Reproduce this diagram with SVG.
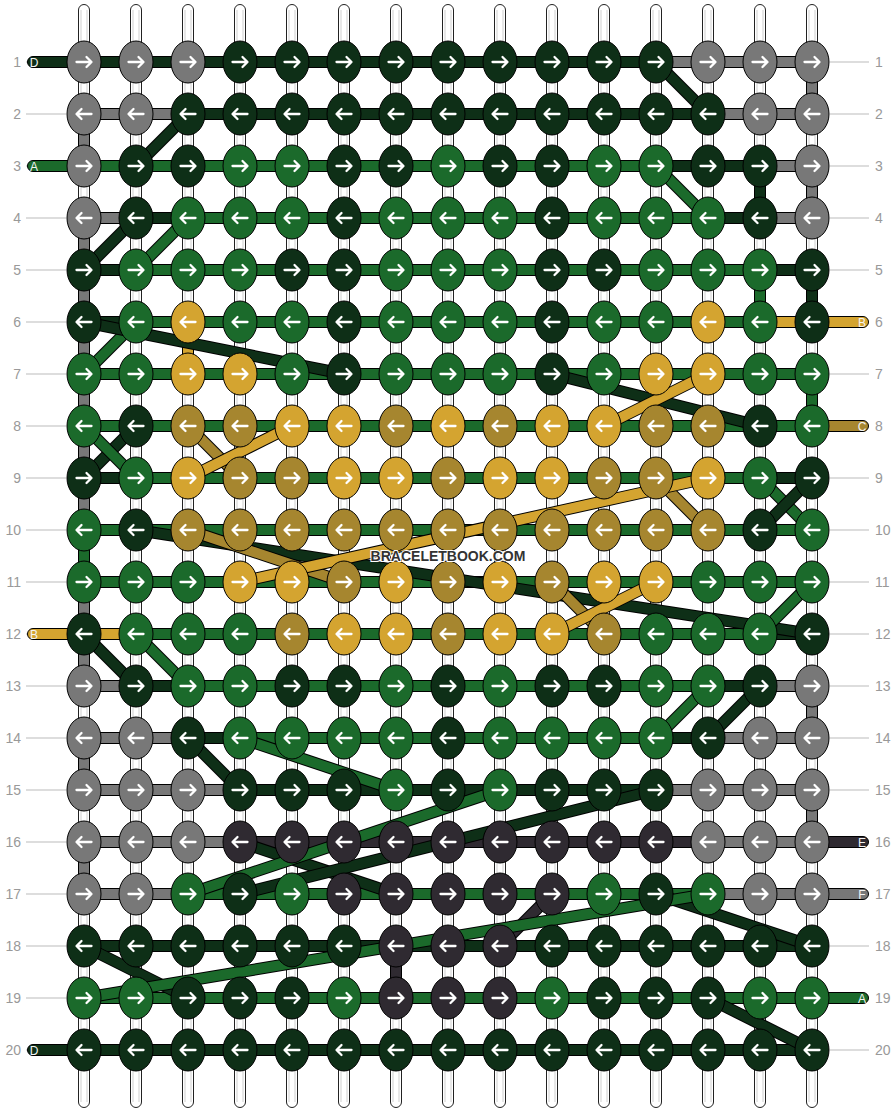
<svg xmlns="http://www.w3.org/2000/svg" width="896" height="1112" viewBox="0 0 896 1112">
<style>
.g{fill:#787878}.k{fill:#0e2f17}.n{fill:#1b6a2b}.y{fill:#d4a430}.o{fill:#a6862f}.p{fill:#2f2a31}
ellipse{stroke:#000;stroke-width:1}
line{stroke-linecap:butt;fill:none}
.bo{stroke:#000;stroke-width:12}
.sg{stroke:#787878;stroke-width:10}.sk{stroke:#0e2f17;stroke-width:10}.sn{stroke:#1b6a2b;stroke-width:10}
.sy{stroke:#d4a430;stroke-width:10}.so{stroke:#a6862f;stroke-width:10}.sp{stroke:#2f2a31;stroke-width:10}
.str{fill:#fff;stroke:#222;stroke-width:1}
.il{stroke:#cfcfcf;stroke-width:1}
.tl{stroke:#bbb;stroke-width:1}
.num{font-family:"Liberation Sans",Arial,sans-serif;font-size:14px;fill:#999}
.pl{stroke:#000;stroke-width:1}
.pt{font-family:"Liberation Sans",Arial,sans-serif;font-size:12px;fill:#f4f4f4;text-anchor:middle}
.wm{font-family:"Liberation Sans",Arial,sans-serif;font-size:14px;font-weight:bold;fill:#333;stroke:#fff;stroke-width:2;paint-order:stroke;text-anchor:middle}
</style>
<defs>
<path id="R" d="M-7.5,0H7M2.5,-5L7.5,0L2.5,5" fill="none" stroke="#fff" stroke-width="2.3" stroke-linecap="round" stroke-linejoin="round"/>
<path id="L" d="M7.5,0H-7M-2.5,-5L-7.5,0L-2.5,5" fill="none" stroke="#fff" stroke-width="2.3" stroke-linecap="round" stroke-linejoin="round"/>
</defs>
<rect width="896" height="1112" fill="#fff"/>
<g id="strings">
<rect class="str" x="78.5" y="4.5" width="11" height="1103" rx="5.5"/><rect class="str" x="130.5" y="4.5" width="11" height="1103" rx="5.5"/><rect class="str" x="182.5" y="4.5" width="11" height="1103" rx="5.5"/><rect class="str" x="234.5" y="4.5" width="11" height="1103" rx="5.5"/><rect class="str" x="286.5" y="4.5" width="11" height="1103" rx="5.5"/><rect class="str" x="338.5" y="4.5" width="11" height="1103" rx="5.5"/><rect class="str" x="390.5" y="4.5" width="11" height="1103" rx="5.5"/><rect class="str" x="442.5" y="4.5" width="11" height="1103" rx="5.5"/><rect class="str" x="494.5" y="4.5" width="11" height="1103" rx="5.5"/><rect class="str" x="546.5" y="4.5" width="11" height="1103" rx="5.5"/><rect class="str" x="598.5" y="4.5" width="11" height="1103" rx="5.5"/><rect class="str" x="650.5" y="4.5" width="11" height="1103" rx="5.5"/><rect class="str" x="702.5" y="4.5" width="11" height="1103" rx="5.5"/><rect class="str" x="754.5" y="4.5" width="11" height="1103" rx="5.5"/><rect class="str" x="806.5" y="4.5" width="11" height="1103" rx="5.5"/>
<path class="il" d="M81,10V1102M87,10V1102M133,10V1102M139,10V1102M185,10V1102M191,10V1102M237,10V1102M243,10V1102M289,10V1102M295,10V1102M341,10V1102M347,10V1102M393,10V1102M399,10V1102M445,10V1102M451,10V1102M497,10V1102M503,10V1102M549,10V1102M555,10V1102M601,10V1102M607,10V1102M653,10V1102M659,10V1102M705,10V1102M711,10V1102M757,10V1102M763,10V1102M809,10V1102M815,10V1102"/>
</g>
<g id="rownumbers">
<path class="tl" d="M26,62H66M26,114H66M26,166H66M26,218H66M26,270H66M26,322H66M26,374H66M26,426H66M26,478H66M26,530H66M26,582H66M26,634H66M26,686H66M26,738H66M26,790H66M26,842H66M26,894H66M26,946H66M26,998H66M26,1050H66M830,62H869M830,114H869M830,166H869M830,218H869M830,270H869M830,322H869M830,374H869M830,426H869M830,478H869M830,530H869M830,582H869M830,634H869M830,686H869M830,738H869M830,790H869M830,842H869M830,894H869M830,946H869M830,998H869M830,1050H869"/>
<g class="num" text-anchor="end">
<text x="21" y="67">1</text><text x="21" y="119">2</text><text x="21" y="171">3</text><text x="21" y="223">4</text><text x="21" y="275">5</text><text x="21" y="327">6</text><text x="21" y="379">7</text><text x="21" y="431">8</text><text x="21" y="483">9</text><text x="21" y="535">10</text><text x="21" y="587">11</text><text x="21" y="639">12</text><text x="21" y="691">13</text><text x="21" y="743">14</text><text x="21" y="795">15</text><text x="21" y="847">16</text><text x="21" y="899">17</text><text x="21" y="951">18</text><text x="21" y="1003">19</text><text x="21" y="1055">20</text>
</g>
<g class="num">
<text x="875" y="67">1</text><text x="875" y="119">2</text><text x="875" y="171">3</text><text x="875" y="223">4</text><text x="875" y="275">5</text><text x="875" y="327">6</text><text x="875" y="379">7</text><text x="875" y="431">8</text><text x="875" y="483">9</text><text x="875" y="535">10</text><text x="875" y="587">11</text><text x="875" y="639">12</text><text x="875" y="691">13</text><text x="875" y="743">14</text><text x="875" y="795">15</text><text x="875" y="847">16</text><text x="875" y="899">17</text><text x="875" y="951">18</text><text x="875" y="1003">19</text><text x="875" y="1055">20</text>
</g>
</g>
<g id="connectors">
<g id="verticals">
<line class="bo" x1="812" y1="62" x2="812" y2="114"/><line class="sg" x1="812" y1="62" x2="812" y2="114"/>
<line class="bo" x1="84" y1="114" x2="84" y2="166"/><line class="sg" x1="84" y1="114" x2="84" y2="166"/>
<line class="bo" x1="760" y1="166" x2="760" y2="218"/><line class="sk" x1="760" y1="166" x2="760" y2="218"/>
<line class="bo" x1="812" y1="166" x2="812" y2="218"/><line class="sg" x1="812" y1="166" x2="812" y2="218"/>
<line class="bo" x1="84" y1="218" x2="84" y2="270"/><line class="sg" x1="84" y1="218" x2="84" y2="270"/>
<line class="bo" x1="84" y1="270" x2="84" y2="322"/><line class="sg" x1="84" y1="270" x2="84" y2="322"/>
<line class="bo" x1="760" y1="270" x2="760" y2="322"/><line class="sn" x1="760" y1="270" x2="760" y2="322"/>
<line class="bo" x1="812" y1="270" x2="812" y2="322"/><line class="sk" x1="812" y1="270" x2="812" y2="322"/>
<line class="bo" x1="84" y1="322" x2="84" y2="374"/><line class="sg" x1="84" y1="322" x2="84" y2="374"/>
<line class="bo" x1="188" y1="322" x2="188" y2="374"/><line class="sy" x1="188" y1="322" x2="188" y2="374"/>
<line class="bo" x1="84" y1="374" x2="84" y2="426"/><line class="sg" x1="84" y1="374" x2="84" y2="426"/>
<line class="bo" x1="812" y1="374" x2="812" y2="426"/><line class="sn" x1="812" y1="374" x2="812" y2="426"/>
<line class="bo" x1="84" y1="426" x2="84" y2="478"/><line class="sg" x1="84" y1="426" x2="84" y2="478"/>
<line class="bo" x1="84" y1="478" x2="84" y2="530"/><line class="sg" x1="84" y1="478" x2="84" y2="530"/>
<line class="bo" x1="84" y1="530" x2="84" y2="582"/><line class="sn" x1="84" y1="530" x2="84" y2="582"/>
<line class="bo" x1="84" y1="582" x2="84" y2="634"/><line class="sg" x1="84" y1="582" x2="84" y2="634"/>
<line class="bo" x1="84" y1="634" x2="84" y2="686"/><line class="sg" x1="84" y1="634" x2="84" y2="686"/>
<line class="bo" x1="812" y1="686" x2="812" y2="738"/><line class="sg" x1="812" y1="686" x2="812" y2="738"/>
<line class="bo" x1="84" y1="738" x2="84" y2="790"/><line class="sg" x1="84" y1="738" x2="84" y2="790"/>
<line class="bo" x1="812" y1="790" x2="812" y2="842"/><line class="sg" x1="812" y1="790" x2="812" y2="842"/>
<line class="bo" x1="84" y1="842" x2="84" y2="894"/><line class="sg" x1="84" y1="842" x2="84" y2="894"/>
<line class="bo" x1="396" y1="946" x2="396" y2="998"/><line class="sp" x1="396" y1="946" x2="396" y2="998"/>
</g>
<g id="horizontals">
<line class="bo" x1="84" y1="62" x2="656" y2="62"/><line class="sk" x1="84" y1="62" x2="656" y2="62"/>
<line class="bo" x1="656" y1="62" x2="812" y2="62"/><line class="sg" x1="656" y1="62" x2="812" y2="62"/>
<line class="bo" x1="84" y1="114" x2="812" y2="114"/><line class="sg" x1="84" y1="114" x2="188" y2="114"/><line class="sk" x1="188" y1="114" x2="708" y2="114"/><line class="sg" x1="708" y1="114" x2="812" y2="114"/>
<line class="bo" x1="84" y1="166" x2="812" y2="166"/><line class="sn" x1="84" y1="166" x2="656" y2="166"/><line class="sk" x1="656" y1="166" x2="760" y2="166"/><line class="sg" x1="760" y1="166" x2="812" y2="166"/>
<line class="bo" x1="84" y1="218" x2="812" y2="218"/><line class="sg" x1="84" y1="218" x2="136" y2="218"/><line class="sk" x1="136" y1="218" x2="188" y2="218"/><line class="sn" x1="188" y1="218" x2="708" y2="218"/><line class="sk" x1="708" y1="218" x2="760" y2="218"/><line class="sg" x1="760" y1="218" x2="812" y2="218"/>
<line class="bo" x1="84" y1="270" x2="812" y2="270"/><line class="sk" x1="84" y1="270" x2="136" y2="270"/><line class="sn" x1="136" y1="270" x2="760" y2="270"/><line class="sk" x1="760" y1="270" x2="812" y2="270"/>
<line class="bo" x1="84" y1="322" x2="812" y2="322"/><line class="sk" x1="84" y1="322" x2="136" y2="322"/><line class="sn" x1="136" y1="322" x2="760" y2="322"/><line class="sy" x1="760" y1="322" x2="812" y2="322"/>
<line class="bo" x1="84" y1="374" x2="812" y2="374"/><line class="sn" x1="84" y1="374" x2="812" y2="374"/>
<line class="bo" x1="84" y1="426" x2="812" y2="426"/><line class="sn" x1="84" y1="426" x2="812" y2="426"/>
<line class="bo" x1="84" y1="478" x2="812" y2="478"/><line class="sk" x1="84" y1="478" x2="136" y2="478"/><line class="sn" x1="136" y1="478" x2="760" y2="478"/><line class="sk" x1="760" y1="478" x2="812" y2="478"/>
<line class="bo" x1="84" y1="530" x2="812" y2="530"/><line class="sn" x1="84" y1="530" x2="812" y2="530"/>
<line class="bo" x1="84" y1="582" x2="812" y2="582"/><line class="sn" x1="84" y1="582" x2="812" y2="582"/>
<line class="bo" x1="84" y1="634" x2="812" y2="634"/><line class="sy" x1="84" y1="634" x2="136" y2="634"/><line class="sn" x1="136" y1="634" x2="760" y2="634"/><line class="sk" x1="760" y1="634" x2="812" y2="634"/>
<line class="bo" x1="84" y1="686" x2="812" y2="686"/><line class="sg" x1="84" y1="686" x2="136" y2="686"/><line class="sk" x1="136" y1="686" x2="188" y2="686"/><line class="sn" x1="188" y1="686" x2="708" y2="686"/><line class="sk" x1="708" y1="686" x2="760" y2="686"/><line class="sg" x1="760" y1="686" x2="812" y2="686"/>
<line class="bo" x1="84" y1="738" x2="812" y2="738"/><line class="sg" x1="84" y1="738" x2="188" y2="738"/><line class="sk" x1="188" y1="738" x2="240" y2="738"/><line class="sn" x1="240" y1="738" x2="656" y2="738"/><line class="sk" x1="656" y1="738" x2="708" y2="738"/><line class="sg" x1="708" y1="738" x2="812" y2="738"/>
<line class="bo" x1="84" y1="790" x2="812" y2="790"/><line class="sg" x1="84" y1="790" x2="240" y2="790"/><line class="sk" x1="240" y1="790" x2="656" y2="790"/><line class="sg" x1="656" y1="790" x2="812" y2="790"/>
<line class="bo" x1="84" y1="842" x2="812" y2="842"/><line class="sg" x1="84" y1="842" x2="240" y2="842"/><line class="sp" x1="240" y1="842" x2="708" y2="842"/><line class="sg" x1="708" y1="842" x2="812" y2="842"/>
<line class="bo" x1="84" y1="894" x2="812" y2="894"/><line class="sg" x1="84" y1="894" x2="188" y2="894"/><line class="sn" x1="188" y1="894" x2="708" y2="894"/><line class="sg" x1="708" y1="894" x2="812" y2="894"/>
<line class="bo" x1="84" y1="946" x2="812" y2="946"/><line class="sk" x1="84" y1="946" x2="812" y2="946"/>
<line class="bo" x1="84" y1="998" x2="812" y2="998"/><line class="sn" x1="84" y1="998" x2="812" y2="998"/>
<line class="bo" x1="84" y1="1050" x2="812" y2="1050"/><line class="sk" x1="84" y1="1050" x2="812" y2="1050"/>
</g>
<g id="ends">
<rect class="pl k" x="27.5" y="56.5" width="64" height="11" rx="5.5"/><text class="pt" x="34" y="66.5">D</text>
<rect class="pl n" x="27.5" y="160.5" width="64" height="11" rx="5.5"/><text class="pt" x="34" y="170.5">A</text>
<rect class="pl y" x="27.5" y="628.5" width="64" height="11" rx="5.5"/><text class="pt" x="34" y="638.5">B</text>
<rect class="pl k" x="27.5" y="1044.5" width="64" height="11" rx="5.5"/><text class="pt" x="34" y="1054.5">D</text>
<rect class="pl y" x="805" y="316.5" width="63.5" height="11" rx="5.5"/><text class="pt" x="862" y="326.5">B</text>
<rect class="pl o" x="805" y="420.5" width="63.5" height="11" rx="5.5"/><text class="pt" x="862" y="430.5">C</text>
<rect class="pl p" x="805" y="836.5" width="63.5" height="11" rx="5.5"/><text class="pt" x="862" y="846.5">E</text>
<rect class="pl g" x="805" y="888.5" width="63.5" height="11" rx="5.5"/><text class="pt" x="862" y="898.5">F</text>
<rect class="pl n" x="805" y="992.5" width="63.5" height="11" rx="5.5"/><text class="pt" x="862" y="1002.5">A</text>
</g>
<g id="diagonals">
<line class="bo" x1="656" y1="62" x2="708" y2="114"/><line class="sk" x1="656" y1="62" x2="708" y2="114"/>
<line class="bo" x1="188" y1="114" x2="136" y2="166"/><line class="sk" x1="188" y1="114" x2="136" y2="166"/>
<line class="bo" x1="656" y1="166" x2="708" y2="218"/><line class="sn" x1="656" y1="166" x2="708" y2="218"/>
<line class="bo" x1="136" y1="218" x2="84" y2="270"/><line class="sk" x1="136" y1="218" x2="84" y2="270"/>
<line class="bo" x1="188" y1="218" x2="136" y2="270"/><line class="sn" x1="188" y1="218" x2="136" y2="270"/>
<line class="bo" x1="136" y1="322" x2="84" y2="374"/><line class="sn" x1="136" y1="322" x2="84" y2="374"/>
<line class="bo" x1="84" y1="322" x2="344" y2="374"/><line class="sk" x1="84" y1="322" x2="344" y2="374"/>
<line class="bo" x1="552" y1="374" x2="760" y2="426"/><line class="sk" x1="552" y1="374" x2="760" y2="426"/>
<line class="bo" x1="708" y1="374" x2="604" y2="426"/><line class="sy" x1="708" y1="374" x2="604" y2="426"/>
<line class="bo" x1="136" y1="426" x2="84" y2="478"/><line class="sk" x1="136" y1="426" x2="84" y2="478"/>
<line class="bo" x1="84" y1="426" x2="136" y2="478"/><line class="sn" x1="84" y1="426" x2="136" y2="478"/>
<line class="bo" x1="188" y1="426" x2="240" y2="478"/><line class="so" x1="188" y1="426" x2="240" y2="478"/>
<line class="bo" x1="292" y1="426" x2="188" y2="478"/><line class="sy" x1="292" y1="426" x2="188" y2="478"/>
<line class="bo" x1="656" y1="478" x2="708" y2="530"/><line class="so" x1="656" y1="478" x2="708" y2="530"/>
<line class="bo" x1="760" y1="478" x2="812" y2="530"/><line class="sn" x1="760" y1="478" x2="812" y2="530"/>
<line class="bo" x1="812" y1="478" x2="760" y2="530"/><line class="sk" x1="812" y1="478" x2="760" y2="530"/>
<line class="bo" x1="136" y1="530" x2="812" y2="634"/><line class="sk" x1="136" y1="530" x2="812" y2="634"/>
<line class="bo" x1="188" y1="530" x2="344" y2="582"/><line class="so" x1="188" y1="530" x2="344" y2="582"/>
<line class="bo" x1="708" y1="478" x2="240" y2="582"/><line class="sy" x1="708" y1="478" x2="240" y2="582"/>
<line class="bo" x1="552" y1="582" x2="604" y2="634"/><line class="so" x1="552" y1="582" x2="604" y2="634"/>
<line class="bo" x1="552" y1="634" x2="656" y2="582"/><line class="sy" x1="552" y1="634" x2="656" y2="582"/>
<line class="bo" x1="812" y1="582" x2="760" y2="634"/><line class="sn" x1="812" y1="582" x2="760" y2="634"/>
<line class="bo" x1="84" y1="634" x2="136" y2="686"/><line class="sk" x1="84" y1="634" x2="136" y2="686"/>
<line class="bo" x1="136" y1="634" x2="188" y2="686"/><line class="sn" x1="136" y1="634" x2="188" y2="686"/>
<line class="bo" x1="708" y1="686" x2="656" y2="738"/><line class="sn" x1="708" y1="686" x2="656" y2="738"/>
<line class="bo" x1="760" y1="686" x2="708" y2="738"/><line class="sk" x1="760" y1="686" x2="708" y2="738"/>
<line class="bo" x1="188" y1="738" x2="240" y2="790"/><line class="sk" x1="188" y1="738" x2="240" y2="790"/>
<line class="bo" x1="240" y1="738" x2="396" y2="790"/><line class="sn" x1="240" y1="738" x2="396" y2="790"/>
<line class="bo" x1="240" y1="842" x2="396" y2="894"/><line class="sk" x1="240" y1="842" x2="396" y2="894"/>
<line class="bo" x1="188" y1="894" x2="500" y2="790"/><line class="sn" x1="188" y1="894" x2="500" y2="790"/>
<line class="bo" x1="240" y1="894" x2="656" y2="790"/><line class="sk" x1="240" y1="894" x2="656" y2="790"/>
<line class="bo" x1="552" y1="894" x2="500" y2="946"/><line class="sp" x1="552" y1="894" x2="500" y2="946"/>
<line class="bo" x1="656" y1="894" x2="812" y2="946"/><line class="sk" x1="656" y1="894" x2="812" y2="946"/>
<line class="bo" x1="84" y1="946" x2="188" y2="998"/><line class="sk" x1="84" y1="946" x2="188" y2="998"/>
<line class="bo" x1="84" y1="998" x2="708" y2="894"/><line class="sn" x1="84" y1="998" x2="708" y2="894"/>
<line class="bo" x1="708" y1="998" x2="812" y2="1050"/><line class="sk" x1="708" y1="998" x2="812" y2="1050"/>
</g>
</g>
<g id="knots">
<g id="r1c1"><ellipse class="g" cx="84" cy="62" rx="17" ry="21"/><use href="#R" x="84" y="62"/></g>
<g id="r1c2"><ellipse class="g" cx="136" cy="62" rx="17" ry="21"/><use href="#R" x="136" y="62"/></g>
<g id="r1c3"><ellipse class="g" cx="188" cy="62" rx="17" ry="21"/><use href="#R" x="188" y="62"/></g>
<g id="r1c4"><ellipse class="k" cx="240" cy="62" rx="17" ry="21"/><use href="#R" x="240" y="62"/></g>
<g id="r1c5"><ellipse class="k" cx="292" cy="62" rx="17" ry="21"/><use href="#R" x="292" y="62"/></g>
<g id="r1c6"><ellipse class="k" cx="344" cy="62" rx="17" ry="21"/><use href="#R" x="344" y="62"/></g>
<g id="r1c7"><ellipse class="k" cx="396" cy="62" rx="17" ry="21"/><use href="#R" x="396" y="62"/></g>
<g id="r1c8"><ellipse class="k" cx="448" cy="62" rx="17" ry="21"/><use href="#R" x="448" y="62"/></g>
<g id="r1c9"><ellipse class="k" cx="500" cy="62" rx="17" ry="21"/><use href="#R" x="500" y="62"/></g>
<g id="r1c10"><ellipse class="k" cx="552" cy="62" rx="17" ry="21"/><use href="#R" x="552" y="62"/></g>
<g id="r1c11"><ellipse class="k" cx="604" cy="62" rx="17" ry="21"/><use href="#R" x="604" y="62"/></g>
<g id="r1c12"><ellipse class="k" cx="656" cy="62" rx="17" ry="21"/><use href="#R" x="656" y="62"/></g>
<g id="r1c13"><ellipse class="g" cx="708" cy="62" rx="17" ry="21"/><use href="#R" x="708" y="62"/></g>
<g id="r1c14"><ellipse class="g" cx="760" cy="62" rx="17" ry="21"/><use href="#R" x="760" y="62"/></g>
<g id="r1c15"><ellipse class="g" cx="812" cy="62" rx="17" ry="21"/><use href="#R" x="812" y="62"/></g>
<g id="r2c1"><ellipse class="g" cx="84" cy="114" rx="17" ry="21"/><use href="#L" x="84" y="114"/></g>
<g id="r2c2"><ellipse class="g" cx="136" cy="114" rx="17" ry="21"/><use href="#L" x="136" y="114"/></g>
<g id="r2c3"><ellipse class="k" cx="188" cy="114" rx="17" ry="21"/><use href="#L" x="188" y="114"/></g>
<g id="r2c4"><ellipse class="k" cx="240" cy="114" rx="17" ry="21"/><use href="#L" x="240" y="114"/></g>
<g id="r2c5"><ellipse class="k" cx="292" cy="114" rx="17" ry="21"/><use href="#L" x="292" y="114"/></g>
<g id="r2c6"><ellipse class="k" cx="344" cy="114" rx="17" ry="21"/><use href="#L" x="344" y="114"/></g>
<g id="r2c7"><ellipse class="k" cx="396" cy="114" rx="17" ry="21"/><use href="#L" x="396" y="114"/></g>
<g id="r2c8"><ellipse class="k" cx="448" cy="114" rx="17" ry="21"/><use href="#L" x="448" y="114"/></g>
<g id="r2c9"><ellipse class="k" cx="500" cy="114" rx="17" ry="21"/><use href="#L" x="500" y="114"/></g>
<g id="r2c10"><ellipse class="k" cx="552" cy="114" rx="17" ry="21"/><use href="#L" x="552" y="114"/></g>
<g id="r2c11"><ellipse class="k" cx="604" cy="114" rx="17" ry="21"/><use href="#L" x="604" y="114"/></g>
<g id="r2c12"><ellipse class="k" cx="656" cy="114" rx="17" ry="21"/><use href="#L" x="656" y="114"/></g>
<g id="r2c13"><ellipse class="k" cx="708" cy="114" rx="17" ry="21"/><use href="#L" x="708" y="114"/></g>
<g id="r2c14"><ellipse class="g" cx="760" cy="114" rx="17" ry="21"/><use href="#L" x="760" y="114"/></g>
<g id="r2c15"><ellipse class="g" cx="812" cy="114" rx="17" ry="21"/><use href="#L" x="812" y="114"/></g>
<g id="r3c1"><ellipse class="g" cx="84" cy="166" rx="17" ry="21"/><use href="#R" x="84" y="166"/></g>
<g id="r3c2"><ellipse class="k" cx="136" cy="166" rx="17" ry="21"/><use href="#R" x="136" y="166"/></g>
<g id="r3c3"><ellipse class="k" cx="188" cy="166" rx="17" ry="21"/><use href="#R" x="188" y="166"/></g>
<g id="r3c4"><ellipse class="n" cx="240" cy="166" rx="17" ry="21"/><use href="#R" x="240" y="166"/></g>
<g id="r3c5"><ellipse class="n" cx="292" cy="166" rx="17" ry="21"/><use href="#R" x="292" y="166"/></g>
<g id="r3c6"><ellipse class="k" cx="344" cy="166" rx="17" ry="21"/><use href="#R" x="344" y="166"/></g>
<g id="r3c7"><ellipse class="k" cx="396" cy="166" rx="17" ry="21"/><use href="#R" x="396" y="166"/></g>
<g id="r3c8"><ellipse class="n" cx="448" cy="166" rx="17" ry="21"/><use href="#R" x="448" y="166"/></g>
<g id="r3c9"><ellipse class="k" cx="500" cy="166" rx="17" ry="21"/><use href="#R" x="500" y="166"/></g>
<g id="r3c10"><ellipse class="k" cx="552" cy="166" rx="17" ry="21"/><use href="#R" x="552" y="166"/></g>
<g id="r3c11"><ellipse class="n" cx="604" cy="166" rx="17" ry="21"/><use href="#R" x="604" y="166"/></g>
<g id="r3c12"><ellipse class="n" cx="656" cy="166" rx="17" ry="21"/><use href="#R" x="656" y="166"/></g>
<g id="r3c13"><ellipse class="k" cx="708" cy="166" rx="17" ry="21"/><use href="#R" x="708" y="166"/></g>
<g id="r3c14"><ellipse class="k" cx="760" cy="166" rx="17" ry="21"/><use href="#R" x="760" y="166"/></g>
<g id="r3c15"><ellipse class="g" cx="812" cy="166" rx="17" ry="21"/><use href="#R" x="812" y="166"/></g>
<g id="r4c1"><ellipse class="g" cx="84" cy="218" rx="17" ry="21"/><use href="#L" x="84" y="218"/></g>
<g id="r4c2"><ellipse class="k" cx="136" cy="218" rx="17" ry="21"/><use href="#L" x="136" y="218"/></g>
<g id="r4c3"><ellipse class="n" cx="188" cy="218" rx="17" ry="21"/><use href="#L" x="188" y="218"/></g>
<g id="r4c4"><ellipse class="n" cx="240" cy="218" rx="17" ry="21"/><use href="#L" x="240" y="218"/></g>
<g id="r4c5"><ellipse class="n" cx="292" cy="218" rx="17" ry="21"/><use href="#L" x="292" y="218"/></g>
<g id="r4c6"><ellipse class="k" cx="344" cy="218" rx="17" ry="21"/><use href="#L" x="344" y="218"/></g>
<g id="r4c7"><ellipse class="n" cx="396" cy="218" rx="17" ry="21"/><use href="#L" x="396" y="218"/></g>
<g id="r4c8"><ellipse class="n" cx="448" cy="218" rx="17" ry="21"/><use href="#L" x="448" y="218"/></g>
<g id="r4c9"><ellipse class="n" cx="500" cy="218" rx="17" ry="21"/><use href="#L" x="500" y="218"/></g>
<g id="r4c10"><ellipse class="k" cx="552" cy="218" rx="17" ry="21"/><use href="#L" x="552" y="218"/></g>
<g id="r4c11"><ellipse class="n" cx="604" cy="218" rx="17" ry="21"/><use href="#L" x="604" y="218"/></g>
<g id="r4c12"><ellipse class="n" cx="656" cy="218" rx="17" ry="21"/><use href="#L" x="656" y="218"/></g>
<g id="r4c13"><ellipse class="n" cx="708" cy="218" rx="17" ry="21"/><use href="#L" x="708" y="218"/></g>
<g id="r4c14"><ellipse class="k" cx="760" cy="218" rx="17" ry="21"/><use href="#L" x="760" y="218"/></g>
<g id="r4c15"><ellipse class="g" cx="812" cy="218" rx="17" ry="21"/><use href="#L" x="812" y="218"/></g>
<g id="r5c1"><ellipse class="k" cx="84" cy="270" rx="17" ry="21"/><use href="#R" x="84" y="270"/></g>
<g id="r5c2"><ellipse class="n" cx="136" cy="270" rx="17" ry="21"/><use href="#R" x="136" y="270"/></g>
<g id="r5c3"><ellipse class="n" cx="188" cy="270" rx="17" ry="21"/><use href="#R" x="188" y="270"/></g>
<g id="r5c4"><ellipse class="n" cx="240" cy="270" rx="17" ry="21"/><use href="#R" x="240" y="270"/></g>
<g id="r5c5"><ellipse class="k" cx="292" cy="270" rx="17" ry="21"/><use href="#R" x="292" y="270"/></g>
<g id="r5c6"><ellipse class="k" cx="344" cy="270" rx="17" ry="21"/><use href="#R" x="344" y="270"/></g>
<g id="r5c7"><ellipse class="n" cx="396" cy="270" rx="17" ry="21"/><use href="#R" x="396" y="270"/></g>
<g id="r5c8"><ellipse class="n" cx="448" cy="270" rx="17" ry="21"/><use href="#R" x="448" y="270"/></g>
<g id="r5c9"><ellipse class="n" cx="500" cy="270" rx="17" ry="21"/><use href="#R" x="500" y="270"/></g>
<g id="r5c10"><ellipse class="k" cx="552" cy="270" rx="17" ry="21"/><use href="#R" x="552" y="270"/></g>
<g id="r5c11"><ellipse class="k" cx="604" cy="270" rx="17" ry="21"/><use href="#R" x="604" y="270"/></g>
<g id="r5c12"><ellipse class="n" cx="656" cy="270" rx="17" ry="21"/><use href="#R" x="656" y="270"/></g>
<g id="r5c13"><ellipse class="n" cx="708" cy="270" rx="17" ry="21"/><use href="#R" x="708" y="270"/></g>
<g id="r5c14"><ellipse class="n" cx="760" cy="270" rx="17" ry="21"/><use href="#R" x="760" y="270"/></g>
<g id="r5c15"><ellipse class="k" cx="812" cy="270" rx="17" ry="21"/><use href="#R" x="812" y="270"/></g>
<g id="r6c1"><ellipse class="k" cx="84" cy="322" rx="17" ry="21"/><use href="#L" x="84" y="322"/></g>
<g id="r6c2"><ellipse class="n" cx="136" cy="322" rx="17" ry="21"/><use href="#L" x="136" y="322"/></g>
<g id="r6c3"><ellipse class="y" cx="188" cy="322" rx="17" ry="21"/><use href="#L" x="188" y="322"/></g>
<g id="r6c4"><ellipse class="n" cx="240" cy="322" rx="17" ry="21"/><use href="#L" x="240" y="322"/></g>
<g id="r6c5"><ellipse class="n" cx="292" cy="322" rx="17" ry="21"/><use href="#L" x="292" y="322"/></g>
<g id="r6c6"><ellipse class="k" cx="344" cy="322" rx="17" ry="21"/><use href="#L" x="344" y="322"/></g>
<g id="r6c7"><ellipse class="n" cx="396" cy="322" rx="17" ry="21"/><use href="#L" x="396" y="322"/></g>
<g id="r6c8"><ellipse class="n" cx="448" cy="322" rx="17" ry="21"/><use href="#L" x="448" y="322"/></g>
<g id="r6c9"><ellipse class="n" cx="500" cy="322" rx="17" ry="21"/><use href="#L" x="500" y="322"/></g>
<g id="r6c10"><ellipse class="k" cx="552" cy="322" rx="17" ry="21"/><use href="#L" x="552" y="322"/></g>
<g id="r6c11"><ellipse class="n" cx="604" cy="322" rx="17" ry="21"/><use href="#L" x="604" y="322"/></g>
<g id="r6c12"><ellipse class="n" cx="656" cy="322" rx="17" ry="21"/><use href="#L" x="656" y="322"/></g>
<g id="r6c13"><ellipse class="y" cx="708" cy="322" rx="17" ry="21"/><use href="#L" x="708" y="322"/></g>
<g id="r6c14"><ellipse class="n" cx="760" cy="322" rx="17" ry="21"/><use href="#L" x="760" y="322"/></g>
<g id="r6c15"><ellipse class="k" cx="812" cy="322" rx="17" ry="21"/><use href="#L" x="812" y="322"/></g>
<g id="r7c1"><ellipse class="n" cx="84" cy="374" rx="17" ry="21"/><use href="#R" x="84" y="374"/></g>
<g id="r7c2"><ellipse class="n" cx="136" cy="374" rx="17" ry="21"/><use href="#R" x="136" y="374"/></g>
<g id="r7c3"><ellipse class="y" cx="188" cy="374" rx="17" ry="21"/><use href="#R" x="188" y="374"/></g>
<g id="r7c4"><ellipse class="y" cx="240" cy="374" rx="17" ry="21"/><use href="#R" x="240" y="374"/></g>
<g id="r7c5"><ellipse class="n" cx="292" cy="374" rx="17" ry="21"/><use href="#R" x="292" y="374"/></g>
<g id="r7c6"><ellipse class="k" cx="344" cy="374" rx="17" ry="21"/><use href="#R" x="344" y="374"/></g>
<g id="r7c7"><ellipse class="n" cx="396" cy="374" rx="17" ry="21"/><use href="#R" x="396" y="374"/></g>
<g id="r7c8"><ellipse class="n" cx="448" cy="374" rx="17" ry="21"/><use href="#R" x="448" y="374"/></g>
<g id="r7c9"><ellipse class="n" cx="500" cy="374" rx="17" ry="21"/><use href="#R" x="500" y="374"/></g>
<g id="r7c10"><ellipse class="k" cx="552" cy="374" rx="17" ry="21"/><use href="#R" x="552" y="374"/></g>
<g id="r7c11"><ellipse class="n" cx="604" cy="374" rx="17" ry="21"/><use href="#R" x="604" y="374"/></g>
<g id="r7c12"><ellipse class="y" cx="656" cy="374" rx="17" ry="21"/><use href="#R" x="656" y="374"/></g>
<g id="r7c13"><ellipse class="y" cx="708" cy="374" rx="17" ry="21"/><use href="#R" x="708" y="374"/></g>
<g id="r7c14"><ellipse class="n" cx="760" cy="374" rx="17" ry="21"/><use href="#R" x="760" y="374"/></g>
<g id="r7c15"><ellipse class="n" cx="812" cy="374" rx="17" ry="21"/><use href="#R" x="812" y="374"/></g>
<g id="r8c1"><ellipse class="n" cx="84" cy="426" rx="17" ry="21"/><use href="#L" x="84" y="426"/></g>
<g id="r8c2"><ellipse class="k" cx="136" cy="426" rx="17" ry="21"/><use href="#L" x="136" y="426"/></g>
<g id="r8c3"><ellipse class="o" cx="188" cy="426" rx="17" ry="21"/><use href="#L" x="188" y="426"/></g>
<g id="r8c4"><ellipse class="o" cx="240" cy="426" rx="17" ry="21"/><use href="#L" x="240" y="426"/></g>
<g id="r8c5"><ellipse class="y" cx="292" cy="426" rx="17" ry="21"/><use href="#L" x="292" y="426"/></g>
<g id="r8c6"><ellipse class="y" cx="344" cy="426" rx="17" ry="21"/><use href="#L" x="344" y="426"/></g>
<g id="r8c7"><ellipse class="o" cx="396" cy="426" rx="17" ry="21"/><use href="#L" x="396" y="426"/></g>
<g id="r8c8"><ellipse class="y" cx="448" cy="426" rx="17" ry="21"/><use href="#L" x="448" y="426"/></g>
<g id="r8c9"><ellipse class="o" cx="500" cy="426" rx="17" ry="21"/><use href="#L" x="500" y="426"/></g>
<g id="r8c10"><ellipse class="y" cx="552" cy="426" rx="17" ry="21"/><use href="#L" x="552" y="426"/></g>
<g id="r8c11"><ellipse class="y" cx="604" cy="426" rx="17" ry="21"/><use href="#L" x="604" y="426"/></g>
<g id="r8c12"><ellipse class="o" cx="656" cy="426" rx="17" ry="21"/><use href="#L" x="656" y="426"/></g>
<g id="r8c13"><ellipse class="o" cx="708" cy="426" rx="17" ry="21"/><use href="#L" x="708" y="426"/></g>
<g id="r8c14"><ellipse class="k" cx="760" cy="426" rx="17" ry="21"/><use href="#L" x="760" y="426"/></g>
<g id="r8c15"><ellipse class="n" cx="812" cy="426" rx="17" ry="21"/><use href="#L" x="812" y="426"/></g>
<g id="r9c1"><ellipse class="k" cx="84" cy="478" rx="17" ry="21"/><use href="#R" x="84" y="478"/></g>
<g id="r9c2"><ellipse class="n" cx="136" cy="478" rx="17" ry="21"/><use href="#R" x="136" y="478"/></g>
<g id="r9c3"><ellipse class="y" cx="188" cy="478" rx="17" ry="21"/><use href="#R" x="188" y="478"/></g>
<g id="r9c4"><ellipse class="o" cx="240" cy="478" rx="17" ry="21"/><use href="#R" x="240" y="478"/></g>
<g id="r9c5"><ellipse class="o" cx="292" cy="478" rx="17" ry="21"/><use href="#R" x="292" y="478"/></g>
<g id="r9c6"><ellipse class="y" cx="344" cy="478" rx="17" ry="21"/><use href="#R" x="344" y="478"/></g>
<g id="r9c7"><ellipse class="y" cx="396" cy="478" rx="17" ry="21"/><use href="#R" x="396" y="478"/></g>
<g id="r9c8"><ellipse class="o" cx="448" cy="478" rx="17" ry="21"/><use href="#R" x="448" y="478"/></g>
<g id="r9c9"><ellipse class="y" cx="500" cy="478" rx="17" ry="21"/><use href="#R" x="500" y="478"/></g>
<g id="r9c10"><ellipse class="y" cx="552" cy="478" rx="17" ry="21"/><use href="#R" x="552" y="478"/></g>
<g id="r9c11"><ellipse class="o" cx="604" cy="478" rx="17" ry="21"/><use href="#R" x="604" y="478"/></g>
<g id="r9c12"><ellipse class="o" cx="656" cy="478" rx="17" ry="21"/><use href="#R" x="656" y="478"/></g>
<g id="r9c13"><ellipse class="y" cx="708" cy="478" rx="17" ry="21"/><use href="#R" x="708" y="478"/></g>
<g id="r9c14"><ellipse class="n" cx="760" cy="478" rx="17" ry="21"/><use href="#R" x="760" y="478"/></g>
<g id="r9c15"><ellipse class="k" cx="812" cy="478" rx="17" ry="21"/><use href="#R" x="812" y="478"/></g>
<g id="r10c1"><ellipse class="n" cx="84" cy="530" rx="17" ry="21"/><use href="#L" x="84" y="530"/></g>
<g id="r10c2"><ellipse class="k" cx="136" cy="530" rx="17" ry="21"/><use href="#L" x="136" y="530"/></g>
<g id="r10c3"><ellipse class="o" cx="188" cy="530" rx="17" ry="21"/><use href="#L" x="188" y="530"/></g>
<g id="r10c4"><ellipse class="o" cx="240" cy="530" rx="17" ry="21"/><use href="#L" x="240" y="530"/></g>
<g id="r10c5"><ellipse class="o" cx="292" cy="530" rx="17" ry="21"/><use href="#L" x="292" y="530"/></g>
<g id="r10c6"><ellipse class="o" cx="344" cy="530" rx="17" ry="21"/><use href="#L" x="344" y="530"/></g>
<g id="r10c7"><ellipse class="o" cx="396" cy="530" rx="17" ry="21"/><use href="#L" x="396" y="530"/></g>
<g id="r10c8"><ellipse class="o" cx="448" cy="530" rx="17" ry="21"/><use href="#L" x="448" y="530"/></g>
<g id="r10c9"><ellipse class="o" cx="500" cy="530" rx="17" ry="21"/><use href="#L" x="500" y="530"/></g>
<g id="r10c10"><ellipse class="o" cx="552" cy="530" rx="17" ry="21"/><use href="#L" x="552" y="530"/></g>
<g id="r10c11"><ellipse class="o" cx="604" cy="530" rx="17" ry="21"/><use href="#L" x="604" y="530"/></g>
<g id="r10c12"><ellipse class="o" cx="656" cy="530" rx="17" ry="21"/><use href="#L" x="656" y="530"/></g>
<g id="r10c13"><ellipse class="o" cx="708" cy="530" rx="17" ry="21"/><use href="#L" x="708" y="530"/></g>
<g id="r10c14"><ellipse class="k" cx="760" cy="530" rx="17" ry="21"/><use href="#L" x="760" y="530"/></g>
<g id="r10c15"><ellipse class="n" cx="812" cy="530" rx="17" ry="21"/><use href="#L" x="812" y="530"/></g>
<g id="r11c1"><ellipse class="n" cx="84" cy="582" rx="17" ry="21"/><use href="#R" x="84" y="582"/></g>
<g id="r11c2"><ellipse class="n" cx="136" cy="582" rx="17" ry="21"/><use href="#R" x="136" y="582"/></g>
<g id="r11c3"><ellipse class="n" cx="188" cy="582" rx="17" ry="21"/><use href="#R" x="188" y="582"/></g>
<g id="r11c4"><ellipse class="y" cx="240" cy="582" rx="17" ry="21"/><use href="#R" x="240" y="582"/></g>
<g id="r11c5"><ellipse class="y" cx="292" cy="582" rx="17" ry="21"/><use href="#R" x="292" y="582"/></g>
<g id="r11c6"><ellipse class="o" cx="344" cy="582" rx="17" ry="21"/><use href="#R" x="344" y="582"/></g>
<g id="r11c7"><ellipse class="y" cx="396" cy="582" rx="17" ry="21"/><use href="#R" x="396" y="582"/></g>
<g id="r11c8"><ellipse class="o" cx="448" cy="582" rx="17" ry="21"/><use href="#R" x="448" y="582"/></g>
<g id="r11c9"><ellipse class="y" cx="500" cy="582" rx="17" ry="21"/><use href="#R" x="500" y="582"/></g>
<g id="r11c10"><ellipse class="o" cx="552" cy="582" rx="17" ry="21"/><use href="#R" x="552" y="582"/></g>
<g id="r11c11"><ellipse class="y" cx="604" cy="582" rx="17" ry="21"/><use href="#R" x="604" y="582"/></g>
<g id="r11c12"><ellipse class="y" cx="656" cy="582" rx="17" ry="21"/><use href="#R" x="656" y="582"/></g>
<g id="r11c13"><ellipse class="n" cx="708" cy="582" rx="17" ry="21"/><use href="#R" x="708" y="582"/></g>
<g id="r11c14"><ellipse class="n" cx="760" cy="582" rx="17" ry="21"/><use href="#R" x="760" y="582"/></g>
<g id="r11c15"><ellipse class="n" cx="812" cy="582" rx="17" ry="21"/><use href="#R" x="812" y="582"/></g>
<g id="r12c1"><ellipse class="k" cx="84" cy="634" rx="17" ry="21"/><use href="#L" x="84" y="634"/></g>
<g id="r12c2"><ellipse class="n" cx="136" cy="634" rx="17" ry="21"/><use href="#L" x="136" y="634"/></g>
<g id="r12c3"><ellipse class="n" cx="188" cy="634" rx="17" ry="21"/><use href="#L" x="188" y="634"/></g>
<g id="r12c4"><ellipse class="n" cx="240" cy="634" rx="17" ry="21"/><use href="#L" x="240" y="634"/></g>
<g id="r12c5"><ellipse class="o" cx="292" cy="634" rx="17" ry="21"/><use href="#L" x="292" y="634"/></g>
<g id="r12c6"><ellipse class="y" cx="344" cy="634" rx="17" ry="21"/><use href="#L" x="344" y="634"/></g>
<g id="r12c7"><ellipse class="y" cx="396" cy="634" rx="17" ry="21"/><use href="#L" x="396" y="634"/></g>
<g id="r12c8"><ellipse class="o" cx="448" cy="634" rx="17" ry="21"/><use href="#L" x="448" y="634"/></g>
<g id="r12c9"><ellipse class="y" cx="500" cy="634" rx="17" ry="21"/><use href="#L" x="500" y="634"/></g>
<g id="r12c10"><ellipse class="y" cx="552" cy="634" rx="17" ry="21"/><use href="#L" x="552" y="634"/></g>
<g id="r12c11"><ellipse class="o" cx="604" cy="634" rx="17" ry="21"/><use href="#L" x="604" y="634"/></g>
<g id="r12c12"><ellipse class="n" cx="656" cy="634" rx="17" ry="21"/><use href="#L" x="656" y="634"/></g>
<g id="r12c13"><ellipse class="n" cx="708" cy="634" rx="17" ry="21"/><use href="#L" x="708" y="634"/></g>
<g id="r12c14"><ellipse class="n" cx="760" cy="634" rx="17" ry="21"/><use href="#L" x="760" y="634"/></g>
<g id="r12c15"><ellipse class="k" cx="812" cy="634" rx="17" ry="21"/><use href="#L" x="812" y="634"/></g>
<g id="r13c1"><ellipse class="g" cx="84" cy="686" rx="17" ry="21"/><use href="#R" x="84" y="686"/></g>
<g id="r13c2"><ellipse class="k" cx="136" cy="686" rx="17" ry="21"/><use href="#R" x="136" y="686"/></g>
<g id="r13c3"><ellipse class="n" cx="188" cy="686" rx="17" ry="21"/><use href="#R" x="188" y="686"/></g>
<g id="r13c4"><ellipse class="n" cx="240" cy="686" rx="17" ry="21"/><use href="#R" x="240" y="686"/></g>
<g id="r13c5"><ellipse class="k" cx="292" cy="686" rx="17" ry="21"/><use href="#R" x="292" y="686"/></g>
<g id="r13c6"><ellipse class="k" cx="344" cy="686" rx="17" ry="21"/><use href="#R" x="344" y="686"/></g>
<g id="r13c7"><ellipse class="n" cx="396" cy="686" rx="17" ry="21"/><use href="#R" x="396" y="686"/></g>
<g id="r13c8"><ellipse class="k" cx="448" cy="686" rx="17" ry="21"/><use href="#R" x="448" y="686"/></g>
<g id="r13c9"><ellipse class="n" cx="500" cy="686" rx="17" ry="21"/><use href="#R" x="500" y="686"/></g>
<g id="r13c10"><ellipse class="k" cx="552" cy="686" rx="17" ry="21"/><use href="#R" x="552" y="686"/></g>
<g id="r13c11"><ellipse class="k" cx="604" cy="686" rx="17" ry="21"/><use href="#R" x="604" y="686"/></g>
<g id="r13c12"><ellipse class="n" cx="656" cy="686" rx="17" ry="21"/><use href="#R" x="656" y="686"/></g>
<g id="r13c13"><ellipse class="n" cx="708" cy="686" rx="17" ry="21"/><use href="#R" x="708" y="686"/></g>
<g id="r13c14"><ellipse class="k" cx="760" cy="686" rx="17" ry="21"/><use href="#R" x="760" y="686"/></g>
<g id="r13c15"><ellipse class="g" cx="812" cy="686" rx="17" ry="21"/><use href="#R" x="812" y="686"/></g>
<g id="r14c1"><ellipse class="g" cx="84" cy="738" rx="17" ry="21"/><use href="#L" x="84" y="738"/></g>
<g id="r14c2"><ellipse class="g" cx="136" cy="738" rx="17" ry="21"/><use href="#L" x="136" y="738"/></g>
<g id="r14c3"><ellipse class="k" cx="188" cy="738" rx="17" ry="21"/><use href="#L" x="188" y="738"/></g>
<g id="r14c4"><ellipse class="n" cx="240" cy="738" rx="17" ry="21"/><use href="#L" x="240" y="738"/></g>
<g id="r14c5"><ellipse class="n" cx="292" cy="738" rx="17" ry="21"/><use href="#L" x="292" y="738"/></g>
<g id="r14c6"><ellipse class="n" cx="344" cy="738" rx="17" ry="21"/><use href="#L" x="344" y="738"/></g>
<g id="r14c7"><ellipse class="n" cx="396" cy="738" rx="17" ry="21"/><use href="#L" x="396" y="738"/></g>
<g id="r14c8"><ellipse class="k" cx="448" cy="738" rx="17" ry="21"/><use href="#L" x="448" y="738"/></g>
<g id="r14c9"><ellipse class="n" cx="500" cy="738" rx="17" ry="21"/><use href="#L" x="500" y="738"/></g>
<g id="r14c10"><ellipse class="n" cx="552" cy="738" rx="17" ry="21"/><use href="#L" x="552" y="738"/></g>
<g id="r14c11"><ellipse class="n" cx="604" cy="738" rx="17" ry="21"/><use href="#L" x="604" y="738"/></g>
<g id="r14c12"><ellipse class="n" cx="656" cy="738" rx="17" ry="21"/><use href="#L" x="656" y="738"/></g>
<g id="r14c13"><ellipse class="k" cx="708" cy="738" rx="17" ry="21"/><use href="#L" x="708" y="738"/></g>
<g id="r14c14"><ellipse class="g" cx="760" cy="738" rx="17" ry="21"/><use href="#L" x="760" y="738"/></g>
<g id="r14c15"><ellipse class="g" cx="812" cy="738" rx="17" ry="21"/><use href="#L" x="812" y="738"/></g>
<g id="r15c1"><ellipse class="g" cx="84" cy="790" rx="17" ry="21"/><use href="#R" x="84" y="790"/></g>
<g id="r15c2"><ellipse class="g" cx="136" cy="790" rx="17" ry="21"/><use href="#R" x="136" y="790"/></g>
<g id="r15c3"><ellipse class="g" cx="188" cy="790" rx="17" ry="21"/><use href="#R" x="188" y="790"/></g>
<g id="r15c4"><ellipse class="k" cx="240" cy="790" rx="17" ry="21"/><use href="#R" x="240" y="790"/></g>
<g id="r15c5"><ellipse class="k" cx="292" cy="790" rx="17" ry="21"/><use href="#R" x="292" y="790"/></g>
<g id="r15c6"><ellipse class="k" cx="344" cy="790" rx="17" ry="21"/><use href="#R" x="344" y="790"/></g>
<g id="r15c7"><ellipse class="n" cx="396" cy="790" rx="17" ry="21"/><use href="#R" x="396" y="790"/></g>
<g id="r15c8"><ellipse class="k" cx="448" cy="790" rx="17" ry="21"/><use href="#R" x="448" y="790"/></g>
<g id="r15c9"><ellipse class="n" cx="500" cy="790" rx="17" ry="21"/><use href="#R" x="500" y="790"/></g>
<g id="r15c10"><ellipse class="k" cx="552" cy="790" rx="17" ry="21"/><use href="#R" x="552" y="790"/></g>
<g id="r15c11"><ellipse class="k" cx="604" cy="790" rx="17" ry="21"/><use href="#R" x="604" y="790"/></g>
<g id="r15c12"><ellipse class="k" cx="656" cy="790" rx="17" ry="21"/><use href="#R" x="656" y="790"/></g>
<g id="r15c13"><ellipse class="g" cx="708" cy="790" rx="17" ry="21"/><use href="#R" x="708" y="790"/></g>
<g id="r15c14"><ellipse class="g" cx="760" cy="790" rx="17" ry="21"/><use href="#R" x="760" y="790"/></g>
<g id="r15c15"><ellipse class="g" cx="812" cy="790" rx="17" ry="21"/><use href="#R" x="812" y="790"/></g>
<g id="r16c1"><ellipse class="g" cx="84" cy="842" rx="17" ry="21"/><use href="#L" x="84" y="842"/></g>
<g id="r16c2"><ellipse class="g" cx="136" cy="842" rx="17" ry="21"/><use href="#L" x="136" y="842"/></g>
<g id="r16c3"><ellipse class="g" cx="188" cy="842" rx="17" ry="21"/><use href="#L" x="188" y="842"/></g>
<g id="r16c4"><ellipse class="p" cx="240" cy="842" rx="17" ry="21"/><use href="#L" x="240" y="842"/></g>
<g id="r16c5"><ellipse class="p" cx="292" cy="842" rx="17" ry="21"/><use href="#L" x="292" y="842"/></g>
<g id="r16c6"><ellipse class="p" cx="344" cy="842" rx="17" ry="21"/><use href="#L" x="344" y="842"/></g>
<g id="r16c7"><ellipse class="p" cx="396" cy="842" rx="17" ry="21"/><use href="#L" x="396" y="842"/></g>
<g id="r16c8"><ellipse class="p" cx="448" cy="842" rx="17" ry="21"/><use href="#L" x="448" y="842"/></g>
<g id="r16c9"><ellipse class="p" cx="500" cy="842" rx="17" ry="21"/><use href="#L" x="500" y="842"/></g>
<g id="r16c10"><ellipse class="p" cx="552" cy="842" rx="17" ry="21"/><use href="#L" x="552" y="842"/></g>
<g id="r16c11"><ellipse class="p" cx="604" cy="842" rx="17" ry="21"/><use href="#L" x="604" y="842"/></g>
<g id="r16c12"><ellipse class="p" cx="656" cy="842" rx="17" ry="21"/><use href="#L" x="656" y="842"/></g>
<g id="r16c13"><ellipse class="g" cx="708" cy="842" rx="17" ry="21"/><use href="#L" x="708" y="842"/></g>
<g id="r16c14"><ellipse class="g" cx="760" cy="842" rx="17" ry="21"/><use href="#L" x="760" y="842"/></g>
<g id="r16c15"><ellipse class="g" cx="812" cy="842" rx="17" ry="21"/><use href="#L" x="812" y="842"/></g>
<g id="r17c1"><ellipse class="g" cx="84" cy="894" rx="17" ry="21"/><use href="#R" x="84" y="894"/></g>
<g id="r17c2"><ellipse class="g" cx="136" cy="894" rx="17" ry="21"/><use href="#R" x="136" y="894"/></g>
<g id="r17c3"><ellipse class="n" cx="188" cy="894" rx="17" ry="21"/><use href="#R" x="188" y="894"/></g>
<g id="r17c4"><ellipse class="k" cx="240" cy="894" rx="17" ry="21"/><use href="#R" x="240" y="894"/></g>
<g id="r17c5"><ellipse class="n" cx="292" cy="894" rx="17" ry="21"/><use href="#R" x="292" y="894"/></g>
<g id="r17c6"><ellipse class="p" cx="344" cy="894" rx="17" ry="21"/><use href="#R" x="344" y="894"/></g>
<g id="r17c7"><ellipse class="p" cx="396" cy="894" rx="17" ry="21"/><use href="#R" x="396" y="894"/></g>
<g id="r17c8"><ellipse class="p" cx="448" cy="894" rx="17" ry="21"/><use href="#R" x="448" y="894"/></g>
<g id="r17c9"><ellipse class="p" cx="500" cy="894" rx="17" ry="21"/><use href="#R" x="500" y="894"/></g>
<g id="r17c10"><ellipse class="p" cx="552" cy="894" rx="17" ry="21"/><use href="#R" x="552" y="894"/></g>
<g id="r17c11"><ellipse class="n" cx="604" cy="894" rx="17" ry="21"/><use href="#R" x="604" y="894"/></g>
<g id="r17c12"><ellipse class="k" cx="656" cy="894" rx="17" ry="21"/><use href="#R" x="656" y="894"/></g>
<g id="r17c13"><ellipse class="n" cx="708" cy="894" rx="17" ry="21"/><use href="#R" x="708" y="894"/></g>
<g id="r17c14"><ellipse class="g" cx="760" cy="894" rx="17" ry="21"/><use href="#R" x="760" y="894"/></g>
<g id="r17c15"><ellipse class="g" cx="812" cy="894" rx="17" ry="21"/><use href="#R" x="812" y="894"/></g>
<g id="r18c1"><ellipse class="k" cx="84" cy="946" rx="17" ry="21"/><use href="#L" x="84" y="946"/></g>
<g id="r18c2"><ellipse class="k" cx="136" cy="946" rx="17" ry="21"/><use href="#L" x="136" y="946"/></g>
<g id="r18c3"><ellipse class="k" cx="188" cy="946" rx="17" ry="21"/><use href="#L" x="188" y="946"/></g>
<g id="r18c4"><ellipse class="k" cx="240" cy="946" rx="17" ry="21"/><use href="#L" x="240" y="946"/></g>
<g id="r18c5"><ellipse class="k" cx="292" cy="946" rx="17" ry="21"/><use href="#L" x="292" y="946"/></g>
<g id="r18c6"><ellipse class="k" cx="344" cy="946" rx="17" ry="21"/><use href="#L" x="344" y="946"/></g>
<g id="r18c7"><ellipse class="p" cx="396" cy="946" rx="17" ry="21"/><use href="#L" x="396" y="946"/></g>
<g id="r18c8"><ellipse class="p" cx="448" cy="946" rx="17" ry="21"/><use href="#L" x="448" y="946"/></g>
<g id="r18c9"><ellipse class="p" cx="500" cy="946" rx="17" ry="21"/><use href="#L" x="500" y="946"/></g>
<g id="r18c10"><ellipse class="k" cx="552" cy="946" rx="17" ry="21"/><use href="#L" x="552" y="946"/></g>
<g id="r18c11"><ellipse class="k" cx="604" cy="946" rx="17" ry="21"/><use href="#L" x="604" y="946"/></g>
<g id="r18c12"><ellipse class="k" cx="656" cy="946" rx="17" ry="21"/><use href="#L" x="656" y="946"/></g>
<g id="r18c13"><ellipse class="k" cx="708" cy="946" rx="17" ry="21"/><use href="#L" x="708" y="946"/></g>
<g id="r18c14"><ellipse class="k" cx="760" cy="946" rx="17" ry="21"/><use href="#L" x="760" y="946"/></g>
<g id="r18c15"><ellipse class="k" cx="812" cy="946" rx="17" ry="21"/><use href="#L" x="812" y="946"/></g>
<g id="r19c1"><ellipse class="n" cx="84" cy="998" rx="17" ry="21"/><use href="#R" x="84" y="998"/></g>
<g id="r19c2"><ellipse class="n" cx="136" cy="998" rx="17" ry="21"/><use href="#R" x="136" y="998"/></g>
<g id="r19c3"><ellipse class="k" cx="188" cy="998" rx="17" ry="21"/><use href="#R" x="188" y="998"/></g>
<g id="r19c4"><ellipse class="k" cx="240" cy="998" rx="17" ry="21"/><use href="#R" x="240" y="998"/></g>
<g id="r19c5"><ellipse class="k" cx="292" cy="998" rx="17" ry="21"/><use href="#R" x="292" y="998"/></g>
<g id="r19c6"><ellipse class="n" cx="344" cy="998" rx="17" ry="21"/><use href="#R" x="344" y="998"/></g>
<g id="r19c7"><ellipse class="p" cx="396" cy="998" rx="17" ry="21"/><use href="#R" x="396" y="998"/></g>
<g id="r19c8"><ellipse class="p" cx="448" cy="998" rx="17" ry="21"/><use href="#R" x="448" y="998"/></g>
<g id="r19c9"><ellipse class="p" cx="500" cy="998" rx="17" ry="21"/><use href="#R" x="500" y="998"/></g>
<g id="r19c10"><ellipse class="n" cx="552" cy="998" rx="17" ry="21"/><use href="#R" x="552" y="998"/></g>
<g id="r19c11"><ellipse class="k" cx="604" cy="998" rx="17" ry="21"/><use href="#R" x="604" y="998"/></g>
<g id="r19c12"><ellipse class="k" cx="656" cy="998" rx="17" ry="21"/><use href="#R" x="656" y="998"/></g>
<g id="r19c13"><ellipse class="k" cx="708" cy="998" rx="17" ry="21"/><use href="#R" x="708" y="998"/></g>
<g id="r19c14"><ellipse class="n" cx="760" cy="998" rx="17" ry="21"/><use href="#R" x="760" y="998"/></g>
<g id="r19c15"><ellipse class="n" cx="812" cy="998" rx="17" ry="21"/><use href="#R" x="812" y="998"/></g>
<g id="r20c1"><ellipse class="k" cx="84" cy="1050" rx="17" ry="21"/><use href="#L" x="84" y="1050"/></g>
<g id="r20c2"><ellipse class="k" cx="136" cy="1050" rx="17" ry="21"/><use href="#L" x="136" y="1050"/></g>
<g id="r20c3"><ellipse class="k" cx="188" cy="1050" rx="17" ry="21"/><use href="#L" x="188" y="1050"/></g>
<g id="r20c4"><ellipse class="k" cx="240" cy="1050" rx="17" ry="21"/><use href="#L" x="240" y="1050"/></g>
<g id="r20c5"><ellipse class="k" cx="292" cy="1050" rx="17" ry="21"/><use href="#L" x="292" y="1050"/></g>
<g id="r20c6"><ellipse class="k" cx="344" cy="1050" rx="17" ry="21"/><use href="#L" x="344" y="1050"/></g>
<g id="r20c7"><ellipse class="k" cx="396" cy="1050" rx="17" ry="21"/><use href="#L" x="396" y="1050"/></g>
<g id="r20c8"><ellipse class="k" cx="448" cy="1050" rx="17" ry="21"/><use href="#L" x="448" y="1050"/></g>
<g id="r20c9"><ellipse class="k" cx="500" cy="1050" rx="17" ry="21"/><use href="#L" x="500" y="1050"/></g>
<g id="r20c10"><ellipse class="k" cx="552" cy="1050" rx="17" ry="21"/><use href="#L" x="552" y="1050"/></g>
<g id="r20c11"><ellipse class="k" cx="604" cy="1050" rx="17" ry="21"/><use href="#L" x="604" y="1050"/></g>
<g id="r20c12"><ellipse class="k" cx="656" cy="1050" rx="17" ry="21"/><use href="#L" x="656" y="1050"/></g>
<g id="r20c13"><ellipse class="k" cx="708" cy="1050" rx="17" ry="21"/><use href="#L" x="708" y="1050"/></g>
<g id="r20c14"><ellipse class="k" cx="760" cy="1050" rx="17" ry="21"/><use href="#L" x="760" y="1050"/></g>
<g id="r20c15"><ellipse class="k" cx="812" cy="1050" rx="17" ry="21"/><use href="#L" x="812" y="1050"/></g>
</g>
<text class="wm" x="448" y="561">BRACELETBOOK.COM</text>
</svg>
